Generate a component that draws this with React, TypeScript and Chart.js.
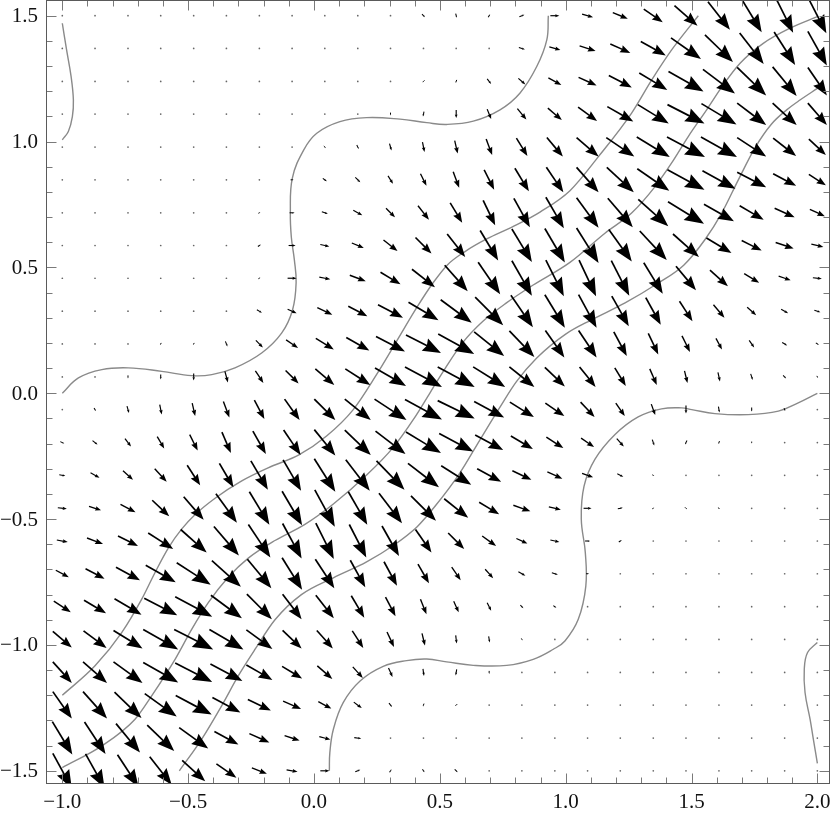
import React, { useEffect, useRef } from "react";
import { Chart, registerables } from "chart.js";

Chart.register(...registerables);

// Sample points of the vector field
const GRID_X = [-1.0, -0.87, -0.739, -0.609, -0.478, -0.348, -0.217, -0.087, 0.043, 0.174, 0.304, 0.435, 0.565, 0.696, 0.826, 0.957, 1.087, 1.217, 1.348, 1.478, 1.609, 1.739, 1.87, 2.0];
const GRID_Y = [1.5, 1.37, 1.239, 1.109, 0.978, 0.848, 0.717, 0.587, 0.457, 0.326, 0.196, 0.065, -0.065, -0.196, -0.326, -0.457, -0.587, -0.717, -0.848, -0.978, -1.109, -1.239, -1.37, -1.5];

// Horizontal component at each sample (rows follow GRID_Y, columns GRID_X)
const FIELD_U = [
  [0,0,0,0,0,0,0,0, 0,0,1,3,1,2,5,9, 11,15,19,23,22,20,17,18],
  [0,0,0,0,0,0,0,0, 0,0,0,0,0,0,6,11, 16,20,25,30,28,24,21,19],
  [0,0,0,0,0,0,0,0, 0,0,0,-2,-1,4,7,13, 18,23,28,35,32,29,24,19],
  [0,0,0,0,0,0,0,0, 0,0,0,-1,0,4,9,14, 19,26,31,37,35,29,24,19],
  [0,0,0,0,0,0,0,0, 2,2,2,2,3,6,11,16, 22,28,33,38,36,29,23,17],
  [0,0,0,0,0,0,0,3, 4,5,5,6,6,10,14,17, 22,27,32,37,33,29,23,17],
  [0,0,0,0,0,0,2,5, 6,9,9,11,12,12,16,18, 22,25,30,36,30,24,20,15],
  [0,0,0,0,1,0,3,7, 9,12,14,16,18,18,20,20, 22,23,27,26,25,20,18,12],
  [0,0,0,0,1,0,2,9, 11,16,20,23,23,22,20,18, 17,18,19,20,18,15,12,9],
  [0,0,0,0,0,0,5,9, 15,19,25,30,31,28,22,20, 18,17,15,13,11,9,7,6],
  [0,0,0,-1,-1,2,7,12, 18,23,29,35,36,30,25,19, 18,13,10,8,6,5,5,3],
  [0,1,0,0,0,3,8,13, 19,25,31,37,37,32,25,20, 16,11,7,3,2,2,3,1],
  [1,2,2,2,3,6,10,15, 21,26,32,37,37,30,24,19, 14,9,4,0,1,0,1,0],
  [4,5,6,7,8,9,13,17, 21,26,30,35,34,28,22,17, 13,7,2,-2,-1,0,0,0],
  [6,9,10,12,13,14,17,18, 21,24,28,31,30,24,19,15, 11,6,2,1,0,0,0,0],
  [9,12,15,17,20,21,20,20, 20,19,23,25,24,20,17,12, 8,5,2,2,2,0,0,0],
  [11,16,20,25,26,25,22,19, 18,17,17,16,16,14,11,9, 5,3,0,1,1,0,0,0],
  [13,19,24,30,34,29,24,20, 19,15,13,11,9,8,7,6, 3,1,0,0,0,0,0,0],
  [17,22,27,33,37,31,25,19, 18,13,10,6,5,4,3,3, 2,0,0,0,0,0,0,0],
  [19,23,29,35,39,34,26,19, 16,11,7,3,1,1,1,1, 0,0,0,0,0,0,0,0],
  [19,24,29,35,37,32,26,20, 15,10,4,1,-1,0,0,0, 0,0,0,0,0,0,0,0],
  [19,24,27,32,36,28,23,18, 13,8,3,-1,-2,0,0,0, 0,0,0,0,0,0,0,0],
  [20,21,24,27,29,24,20,15, 11,7,0,0,0,0,0,0, 0,0,0,0,0,0,0,0],
  [19,19,21,22,23,20,15,11, 9,5,2,2,3,1,0,0, 0,0,0,0,0,0,0,0],
];

// Vertical component at each sample (negative = pointing down)
const FIELD_V = [
  [0,0,0,0,0,0,0,0, 0,0,-1,-3,-4,3,2,0, -3,-6,-13,-20,-28,-33,-34,-35],
  [0,0,0,0,0,0,0,0, 0,0,0,0,0,0,-2,-3, -5,-9,-14,-21,-27,-31,-33,-34],
  [0,0,0,0,0,0,0,0, 0,0,0,-2,-3,-5,-6,-7, -8,-12,-17,-20,-24,-28,-29,-28],
  [0,0,0,0,0,0,0,0, 0,0,-3,-5,-8,-10,-11,-12, -14,-15,-19,-19,-21,-22,-22,-22],
  [0,0,0,0,0,0,0,0, -2,-4,-7,-10,-13,-16,-18,-19, -19,-19,-20,-20,-20,-19,-18,-16],
  [0,0,0,0,0,0,0,0, -3,-5,-8,-12,-16,-20,-23,-25, -25,-25,-22,-20,-18,-15,-12,-11],
  [0,0,0,0,0,0,1,0, -2,-5,-9,-14,-20,-25,-29,-31, -30,-29,-27,-22,-17,-14,-9,-7],
  [0,0,0,0,-1,0,2,0, -2,-5,-11,-16,-23,-30,-33,-34, -35,-32,-29,-23,-15,-10,-6,-3],
  [0,0,0,0,-1,0,1,0, -2,-6,-12,-18,-26,-32,-35,-36, -36,-35,-31,-24,-16,-9,-4,-1],
  [0,0,0,0,0,0,-3,-4, -7,-10,-13,-18,-23,-28,-32,-33, -33,-30,-27,-20,-13,-8,-4,-2],
  [0,0,0,-2,-2,-5,-7,-8, -11,-13,-15,-18,-20,-24,-26,-27, -27,-24,-21,-16,-11,-7,-3,-2],
  [0,-1,-3,-5,-7,-11,-12,-13, -16,-16,-18,-20,-20,-20,-20,-19, -20,-18,-16,-12,-9,-6,-3,-2],
  [-1,-3,-7,-10,-13,-16,-19,-21, -21,-21,-21,-20,-18,-16,-15,-13, -15,-13,-11,-8,-6,-4,-3,0],
  [-2,-4,-8,-12,-16,-21,-23,-25, -26,-25,-23,-21,-18,-15,-13,-11, -9,-8,-6,-4,-3,-2,0,0],
  [-1,-5,-9,-13,-20,-24,-29,-31, -33,-31,-29,-24,-19,-13,-9,-7, -4,-3,-1,1,0,0,0,0],
  [-1,-4,-8,-16,-23,-29,-33,-34, -37,-33,-30,-25,-19,-12,-6,-3, 0,1,1,-2,-1,0,0,0],
  [-2,-6,-10,-16,-23,-29,-33,-35, -36,-33,-30,-23,-16,-10,-5,-2, 0,2,0,-1,-1,0,0,0],
  [-7,-10,-13,-17,-22,-26,-29,-32, -29,-27,-24,-19,-13,-9,-4,-2, 0,1,0,0,0,0,0,0],
  [-11,-13,-16,-17,-20,-23,-25,-25, -23,-22,-19,-15,-11,-8,-3,-2, 0,0,0,0,0,0,0,0],
  [-16,-17,-18,-20,-20,-20,-19,-18, -18,-17,-15,-12,-8,-6,-2,-1, 0,0,0,0,0,0,0,0],
  [-21,-21,-21,-20,-19,-17,-15,-12, -13,-11,-9,-7,-6,-3,-1,0, 0,0,0,0,0,0,0,0],
  [-27,-27,-26,-23,-19,-15,-11,-8, -7,-6,-4,-3,-2,-1,0,0, 0,0,0,0,0,0,0,0],
  [-33,-32,-29,-26,-21,-13,-9,-5, -3,-1,0,0,0,0,0,0, 0,0,0,0,0,0,0,0],
  [-35,-34,-32,-28,-21,-14,-6,-2, 0,2,3,-3,-3,-1,0,0, 0,0,0,0,0,0,0,0],
];

// Contour curves (x, y)
const CONTOUR_UPPER_STEP = [[-1.0,0.0],[-0.936,0.061],[-0.843,0.094],[-0.738,0.101],[-0.605,0.087],[-0.486,0.07],[-0.406,0.074],[-0.314,0.101],[-0.208,0.16],[-0.128,0.24],[-0.085,0.332],[-0.071,0.44],[-0.078,0.53],[-0.09,0.62],[-0.094,0.716],[-0.086,0.855],[-0.04,0.968],[0.011,1.033],[0.103,1.079],[0.209,1.095],[0.342,1.089],[0.448,1.075],[0.527,1.068],[0.633,1.081],[0.739,1.126],[0.818,1.192],[0.885,1.298],[0.925,1.404],[0.931,1.5]];
const CONTOUR_LOWER_STEP = [[2.0,0.0],[1.924,-0.038],[1.845,-0.071],[1.725,-0.085],[1.593,-0.081],[1.501,-0.065],[1.461,-0.058],[1.381,-0.062],[1.288,-0.094],[1.196,-0.164],[1.116,-0.263],[1.073,-0.369],[1.062,-0.5],[1.078,-0.633],[1.08,-0.766],[1.05,-0.898],[0.997,-0.984],[0.951,-1.017],[0.871,-1.057],[0.766,-1.081],[0.633,-1.081],[0.527,-1.067],[0.448,-1.056],[0.368,-1.062],[0.275,-1.085],[0.183,-1.143],[0.116,-1.229],[0.077,-1.335],[0.063,-1.427],[0.061,-1.5]];
const CONTOUR_CORNER_TL = [[-1.0,1.007],[-0.976,1.04],[-0.96,1.099],[-0.956,1.165],[-0.965,1.258],[-0.983,1.364],[-1.0,1.47]];
const CONTOUR_CORNER_BR = [[2.0,-0.99],[1.961,-1.03],[1.948,-1.096],[1.951,-1.189],[1.971,-1.295],[1.984,-1.374],[2.0,-1.47]];
const CONTOUR_BAND_A = [[-1.0,-1.2],[-0.87,-1.083],[-0.764,-0.951],[-0.685,-0.819],[-0.632,-0.713],[-0.579,-0.615],[-0.526,-0.54],[-0.47,-0.48],[-0.393,-0.417],[-0.287,-0.348],[-0.182,-0.296],[-0.06,-0.245],[0.05,-0.17],[0.156,-0.065],[0.249,0.075],[0.329,0.208],[0.408,0.34],[0.474,0.44],[0.53,0.51],[0.6,0.563],[0.686,0.613],[0.792,0.663],[0.898,0.72],[1.017,0.805],[1.13,0.94],[1.262,1.113],[1.342,1.245],[1.421,1.364],[1.527,1.5]];
const CONTOUR_BAND_B = [[-1.0,-1.487],[-0.843,-1.401],[-0.711,-1.295],[-0.645,-1.202],[-0.552,-1.057],[-0.486,-0.938],[-0.42,-0.832],[-0.34,-0.73],[-0.261,-0.655],[-0.155,-0.585],[-0.036,-0.521],[0.077,-0.44],[0.209,-0.325],[0.315,-0.215],[0.395,-0.104],[0.461,0.002],[0.522,0.1],[0.59,0.2],[0.67,0.285],[0.766,0.36],[0.871,0.43],[1.017,0.52],[1.156,0.636],[1.262,0.716],[1.355,0.821],[1.421,0.915],[1.487,1.02],[1.56,1.126],[1.626,1.225],[1.692,1.31],[1.785,1.39],[1.891,1.45],[2.0,1.496]];
const CONTOUR_BAND_C = [[-0.535,-1.5],[-0.446,-1.374],[-0.367,-1.242],[-0.301,-1.123],[-0.234,-1.017],[-0.155,-0.9],[-0.05,-0.8],[0.077,-0.733],[0.209,-0.67],[0.315,-0.605],[0.41,-0.53],[0.48,-0.45],[0.58,-0.316],[0.66,-0.184],[0.739,-0.055],[0.805,0.047],[0.885,0.14],[1.0,0.235],[1.103,0.292],[1.236,0.359],[1.368,0.438],[1.47,0.51],[1.553,0.61],[1.62,0.716],[1.686,0.848],[1.752,0.975],[1.818,1.07],[1.878,1.126],[1.931,1.165],[2.0,1.211]];

// Axes
const X_MAJOR_TICKS = [-1.0, -0.5, 0.0, 0.5, 1.0, 1.5, 2.0];
const X_TICK_LABELS = ["\u22121.0", "\u22120.5", "0.0", "0.5", "1.0", "1.5", "2.0"];
const Y_MAJOR_TICKS = [-1.5, -1.0, -0.5, 0.0, 0.5, 1.0, 1.5];
const Y_TICK_LABELS = ["\u22121.5", "\u22121.0", "\u22120.5", "0.0", "0.5", "1.0", "1.5"];
const X_RANGE = [-1.0648, 2.0502];
const Y_RANGE = [-1.5524, 1.5624];

// Styling
const FIELD_SCALE = 1 / 251.7; // field units -> plot units
const CONTOUR_COLOR = "#8a8a8a";
const FRAME_COLOR = "#5a5a5a";
const TICK_COLOR = "#7a7a7a";
const LABEL_FONT = '21px "Liberation Serif", "Times New Roman", serif';

function minorTicks(majors: number[]): number[] {
  const out: number[] = [];
  for (let k = 0; k < majors.length - 1; k++) {
    const a = majors[k], b = majors[k + 1];
    for (let m = 1; m < 5; m++) out.push(a + ((b - a) * m) / 5);
  }
  return out;
}

function drawArrow(ctx: CanvasRenderingContext2D, x0: number, y0: number, x1: number, y1: number) {
  const dx = x1 - x0, dy = y1 - y0;
  const L = Math.hypot(dx, dy);
  if (L < 2) {
    const cx = (x0 + x1) / 2, cy = (y0 + y1) / 2;
    ctx.beginPath();
    ctx.arc(cx, cy, 0.85, 0, Math.PI * 2);
    ctx.fill();
    return;
  }
  const ux = dx / L, uy = dy / L;
  const hl = 0.46 * L, hw = 0.175 * L;
  const bx = x1 - ux * hl, by = y1 - uy * hl;
  ctx.lineWidth = Math.min(1.7, 0.9 + L * 0.03);
  ctx.beginPath();
  ctx.moveTo(x0, y0);
  ctx.lineTo(x1 - ux * hl * 0.8, y1 - uy * hl * 0.8);
  ctx.stroke();
  ctx.beginPath();
  ctx.moveTo(x1, y1);
  ctx.lineTo(bx - uy * hw, by + ux * hw);
  ctx.lineTo(x1 - ux * hl * 0.88, y1 - uy * hl * 0.88);
  ctx.lineTo(bx + uy * hw, by - ux * hw);
  ctx.closePath();
  ctx.fill();
}

const fieldPlugin = {
  id: "fieldArrows",
  afterDatasetsDraw(chart: any) {
    const { ctx, chartArea: a, scales } = chart;
    const xs = scales.x, ys = scales.y;
    ctx.save();
    ctx.beginPath();
    ctx.rect(a.left, a.top, a.right - a.left, a.bottom - a.top);
    ctx.clip();
    ctx.strokeStyle = "#000";
    ctx.lineCap = "butt";
    ctx.lineJoin = "miter";
    for (let j = 0; j < GRID_Y.length; j++) {
      for (let i = 0; i < GRID_X.length; i++) {
        const u = FIELD_U[j][i] * FIELD_SCALE;
        const v = FIELD_V[j][i] * FIELD_SCALE;
        const px0 = xs.getPixelForValue(GRID_X[i] - u / 2);
        const py0 = ys.getPixelForValue(GRID_Y[j] - v / 2);
        const px1 = xs.getPixelForValue(GRID_X[i] + u / 2);
        const py1 = ys.getPixelForValue(GRID_Y[j] + v / 2);
        const tiny = Math.hypot(px1 - px0, py1 - py0) < 2;
        ctx.fillStyle = tiny ? "#666" : "#000";
        drawArrow(ctx, px0, py0, px1, py1);
      }
    }
    ctx.restore();
  },
};

const framePlugin = {
  id: "frameTicks",
  afterDraw(chart: any) {
    const { ctx, chartArea: a, scales } = chart;
    const xs = scales.x, ys = scales.y;
    ctx.save();
    ctx.strokeStyle = TICK_COLOR;
    ctx.lineWidth = 1;
    ctx.beginPath();
    const xTick = (v: number, len: number) => {
      const p = Math.round(xs.getPixelForValue(v)) + 0.5;
      ctx.moveTo(p, a.bottom);
      ctx.lineTo(p, a.bottom - len);
      ctx.moveTo(p, a.top);
      ctx.lineTo(p, a.top + len);
    };
    const yTick = (v: number, len: number) => {
      const p = Math.round(ys.getPixelForValue(v)) + 0.5;
      ctx.moveTo(a.left, p);
      ctx.lineTo(a.left + len, p);
      ctx.moveTo(a.right, p);
      ctx.lineTo(a.right - len, p);
    };
    X_MAJOR_TICKS.forEach((v) => xTick(v, 10.5));
    minorTicks(X_MAJOR_TICKS).forEach((v) => xTick(v, 6.5));
    Y_MAJOR_TICKS.forEach((v) => yTick(v, 10.5));
    minorTicks(Y_MAJOR_TICKS).forEach((v) => yTick(v, 6.5));
    ctx.stroke();

    ctx.strokeStyle = FRAME_COLOR;
    ctx.lineWidth = 1;
    ctx.strokeRect(a.left + 0.5, a.top + 0.5, a.right - a.left - 1, a.bottom - a.top - 1);

    ctx.fillStyle = "#111";
    ctx.font = LABEL_FONT;
    ctx.textAlign = "center";
    ctx.textBaseline = "alphabetic";
    X_MAJOR_TICKS.forEach((v, k) => {
      ctx.fillText(X_TICK_LABELS[k], xs.getPixelForValue(v), a.bottom + 24);
    });
    ctx.textAlign = "right";
    ctx.textBaseline = "middle";
    Y_MAJOR_TICKS.forEach((v, k) => {
      ctx.fillText(Y_TICK_LABELS[k], a.left - 8, ys.getPixelForValue(v) + 1);
    });
    ctx.restore();
  },
};

const toPoints = (arr: number[][]) => arr.map(([x, y]) => ({ x, y }));

export default function App() {
  const canvasRef = useRef<HTMLCanvasElement | null>(null);

  useEffect(() => {
    if (!canvasRef.current) return;
    const contours = [CONTOUR_UPPER_STEP, CONTOUR_LOWER_STEP, CONTOUR_CORNER_TL, CONTOUR_CORNER_BR, CONTOUR_BAND_A, CONTOUR_BAND_B, CONTOUR_BAND_C];
    const monotoneX = [false, false, false, false, true, true, true];
    const chart = new Chart(canvasRef.current, {
      type: "scatter",
      data: {
        datasets: contours.map((c, k) => ({
          label: "contour " + k,
          data: toPoints(c),
          showLine: true,
          borderColor: CONTOUR_COLOR,
          borderWidth: 1.4,
          pointRadius: 0,
          tension: 0.4,
          cubicInterpolationMode: monotoneX[k] ? "monotone" : "default",
          fill: false,
        })),
      },
      options: {
        animation: false,
        responsive: false,
        devicePixelRatio: 1,
        layout: { padding: { left: 46, right: 1, top: 0, bottom: 31 } },
        scales: {
          x: { type: "linear", min: X_RANGE[0], max: X_RANGE[1], display: false },
          y: { type: "linear", min: Y_RANGE[0], max: Y_RANGE[1], display: false },
        },
        plugins: { legend: { display: false }, tooltip: { enabled: false } },
      },
      plugins: [fieldPlugin, framePlugin],
    });
    return () => chart.destroy();
  }, []);

  return (
    <div style={{ position: "fixed", left: 0, top: 0, width: 831, height: 815, background: "#fff" }}>
      <canvas ref={canvasRef} width={831} height={815} style={{ display: "block" }} />
    </div>
  );
}
